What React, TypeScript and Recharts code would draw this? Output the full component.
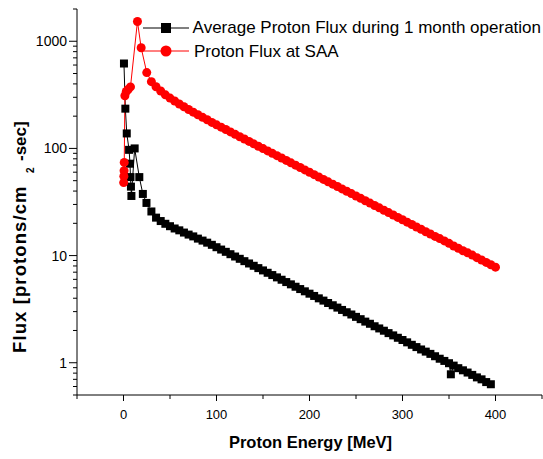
import React from "react"
import { Legend, Line, LineChart, XAxis, YAxis } from "recharts"

const FONT = '"Liberation Sans", Arial, Helvetica, sans-serif'

// Average Proton Flux during 1 month operation
const avgEnergy = [
  0.5, 2, 3.5, 6, 7, 7.5, 8, 8.5, 12, 17, 20.8, 24.7, 30, 35, 40, 45, 50, 55,
  60, 65, 70, 75, 80, 85, 90, 95, 100, 105, 110, 115, 120, 125, 130, 135, 140,
  145, 150, 155, 160, 165, 170, 175, 180, 185, 190, 195, 200, 205, 210, 215,
  220, 225, 230, 235, 240, 245, 250, 255, 260, 265, 270, 275, 280, 285, 290,
  295, 300, 305, 310, 315, 320, 325, 330, 335, 340, 345, 350, 352, 355, 360,
  365, 370, 375, 380, 385, 390, 395,
]
const avgFlux = [
  620, 235, 138, 97, 72, 54, 44, 36, 100, 54, 37.6, 31, 25.8, 22.6, 21, 19.8,
  18.8, 17.9, 17.2, 16.4, 15.7, 15.1, 14.4, 13.8, 13.2, 12.6, 11.97, 11.38,
  10.84, 10.3, 9.8, 9.33, 8.87, 8.44, 8.03, 7.64, 7.27, 6.91, 6.58, 6.26, 5.95,
  5.66, 5.39, 5.12, 4.87, 4.64, 4.41, 4.2, 3.99, 3.8, 3.61, 3.44, 3.27, 3.11,
  2.96, 2.82, 2.68, 2.55, 2.42, 2.31, 2.19, 2.09, 1.99, 1.89, 1.8, 1.71, 1.63,
  1.55, 1.47, 1.4, 1.33, 1.27, 1.21, 1.15, 1.09, 1.04, 0.99, 0.78, 0.94, 0.89,
  0.85, 0.81, 0.77, 0.73, 0.7, 0.66, 0.63,
]

// Proton Flux at SAA
const saaEnergy = [
  0.2, 0.4, 0.6, 0.8, 1.5, 3, 5, 7.5, 15, 19, 25, 30, 35, 40, 45, 50, 55, 60,
  65, 70, 75, 80, 85, 90, 95, 100, 105, 110, 115, 120, 125, 130, 135, 140, 145,
  150, 155, 160, 165, 170, 175, 180, 185, 190, 195, 200, 205, 210, 215, 220,
  225, 230, 235, 240, 245, 250, 255, 260, 265, 270, 275, 280, 285, 290, 295,
  300, 305, 310, 315, 320, 325, 330, 335, 340, 345, 350, 355, 360, 365, 370,
  375, 380, 385, 390, 395, 400,
]
const saaFlux = [
  48, 55, 62, 74, 310, 340, 355, 375, 1530, 870, 510, 420, 376, 343, 316, 295,
  277, 260, 245, 231, 218, 206, 195, 185, 175, 166, 157.8, 150, 142.5, 135.4,
  128.6, 122.3, 116.2, 110.4, 104.9, 99.7, 94.8, 90, 85.6, 81.3, 77.3, 73.4,
  69.8, 66.3, 63, 59.9, 56.9, 54.1, 51.4, 48.8, 46.4, 44.1, 41.9, 39.8, 37.9,
  36, 34.2, 32.5, 30.9, 29.3, 27.9, 26.5, 25.2, 23.9, 22.7, 21.6, 20.5, 19.5,
  18.5, 17.6, 16.7, 15.9, 15.1, 14.4, 13.7, 13, 12.3, 11.7, 11.1, 10.6, 10.1,
  9.57, 9.09, 8.64, 8.21, 7.8,
]

const xTicks = [-50, 0, 50, 100, 150, 200, 250, 300, 350, 400, 450]
const xLabeled = [0, 100, 200, 300, 400]
const yTicks = [
  0.5, 0.6, 0.7, 0.8, 0.9, 1, 2, 3, 4, 5, 6, 7, 8, 9, 10, 20, 30, 40, 50, 60,
  70, 80, 90, 100, 200, 300, 400, 500, 600, 700, 800, 900, 1000, 2000,
]
const yLabeled = [1, 10, 100, 1000]

const avgData = avgEnergy.map((e, i) => ({ energy: e, flux: avgFlux[i] }))
const saaData = saaEnergy.map((e, i) => ({ energy: e, flux: saaFlux[i] }))

const XTick = ({ x, y, payload }: any) => {
  const major = xLabeled.includes(payload.value)
  return (
    <g>
      <line x1={x} x2={x} y1={y} y2={y + (major ? 6 : 4)} stroke="#000" />
      {major && (
        <text x={x} y={y + 24} textAnchor="middle" fontSize={13} fontFamily={FONT} fill="#000">
          {payload.value}
        </text>
      )}
    </g>
  )
}

const TopTick = ({ x, y, payload }: any) => (
  <line x1={x} x2={x} y1={y} y2={y + (xLabeled.includes(payload.value) ? 3 : 2)} stroke="#000" />
)

const YTick = ({ x, y, payload }: any) => {
  const major = yLabeled.includes(payload.value)
  const len = major ? 8 : 4
  return (
    <g>
      <line x1={x - len} x2={x} y1={y} y2={y} stroke="#000" />
      {major && (
        <text x={x - len - 2} y={y + 5} textAnchor="end" fontSize={14} fontFamily={FONT} fill="#000">
          {payload.value}
        </text>
      )}
    </g>
  )
}

const SquareDot = (p: any) =>
  p.cx == null ? null : (
    <rect key={`sq-${p.index}`} x={p.cx - 4} y={p.cy - 4} width={8} height={8} fill="#000" />
  )

const CircleDot = (p: any) =>
  p.cx == null ? null : <circle key={`ci-${p.index}`} cx={p.cx} cy={p.cy} r={4.5} fill="#ff0000" />

const legendRows = [
  { name: "Average Proton Flux during 1 month operation", color: "#000000", shape: "square" },
  { name: "Proton Flux at SAA", color: "#ff0000", shape: "circle" },
]

const renderLegend = () => (
  <div style={{ fontFamily: FONT, fontSize: 17, lineHeight: "23.5px", whiteSpace: "nowrap" }}>
    {legendRows.map((row) => (
      <div key={row.name} style={{ display: "flex", alignItems: "center", height: 23.5 }}>
        <svg width={50} height={14} style={{ marginRight: 3 }}>
          <line x1={2} x2={48} y1={7} y2={7} stroke={row.color} />
          {row.shape === "square" ? (
            <rect x={20} y={2} width={10} height={10} fill={row.color} />
          ) : (
            <circle cx={25} cy={7} r={5.5} fill={row.color} />
          )}
        </svg>
        <span style={{ color: "#000" }}>{row.name}</span>
      </div>
    ))}
  </div>
)

// the exported title has its superscript knocked out of place; kept as it looks.
// inside rotate(-90): tspan x = -pageY, y = pageX
const YTitle = () => (
  <text transform="rotate(-90)" fontFamily={FONT} fontWeight="bold" fill="#000">
    <tspan x={-353} y={26} fontSize={18.5} letterSpacing={1.1}>
      Flux [protons/cm
    </tspan>
    <tspan x={-173} y={34} fontSize={10}>
      2
    </tspan>
    <tspan x={-161} y={26} fontSize={17}>
      -sec]
    </tspan>
  </text>
)

const XTitle = ({ viewBox }: any) => (
  <text
    x={viewBox.x + viewBox.width / 2 + 1}
    y={448}
    textAnchor="middle"
    fontFamily={FONT}
    fontWeight="bold"
    fontSize={16.5}
    fill="#000"
  >
    Proton Energy [MeV]
  </text>
)

export default function App() {
  return (
    <div style={{ position: "absolute", left: 0, top: 0, width: 543, height: 459, overflow: "hidden", background: "#fff" }}>
      <LineChart width={543} height={459} margin={{ top: 9, right: 1, bottom: 0, left: 0 }}>
        <XAxis
          xAxisId="b"
          dataKey="energy"
          type="number"
          domain={[-50, 450]}
          ticks={xTicks}
          interval={0}
          allowDataOverflow
          height={64}
          tickSize={0}
          tickMargin={0}
          tick={<XTick />}
          axisLine={{ stroke: "#000" }}
          label={<XTitle />}
        />
        <XAxis
          xAxisId="t"
          orientation="top"
          dataKey="energy"
          type="number"
          domain={[-50, 450]}
          ticks={xTicks}
          interval={0}
          allowDataOverflow
          height={0}
          tickSize={0}
          tickMargin={0}
          tick={<TopTick />}
          axisLine={{ stroke: "#000" }}
        />
        <YAxis
          yAxisId="l"
          scale="log"
          domain={[0.5, 2000]}
          ticks={yTicks}
          interval={0}
          allowDataOverflow
          width={77}
          tickSize={0}
          tickMargin={0}
          tick={<YTick />}
          axisLine={{ stroke: "#000" }}
          label={<YTitle />}
        />
        <YAxis
          yAxisId="r"
          orientation="right"
          width={0}
          tick={false}
          tickLine={false}
          axisLine={{ stroke: "#888" }}
        />
        <Legend
          layout="horizontal"
          verticalAlign="middle"
          align="center"
          content={renderLegend}
          wrapperStyle={{ top: 16, left: 141, width: 400, overflow: "hidden" }}
        />
        <Line
          xAxisId="b"
          yAxisId="l"
          data={avgData}
          dataKey="flux"
          name="Average Proton Flux during 1 month operation"
          stroke="#000"
          strokeWidth={1}
          dot={SquareDot}
          activeDot={false}
          isAnimationActive={false}
        />
        <Line
          xAxisId="b"
          yAxisId="l"
          data={saaData}
          dataKey="flux"
          name="Proton Flux at SAA"
          stroke="#ff0000"
          strokeWidth={1}
          dot={CircleDot}
          activeDot={false}
          isAnimationActive={false}
        />
      </LineChart>
    </div>
  )
}
